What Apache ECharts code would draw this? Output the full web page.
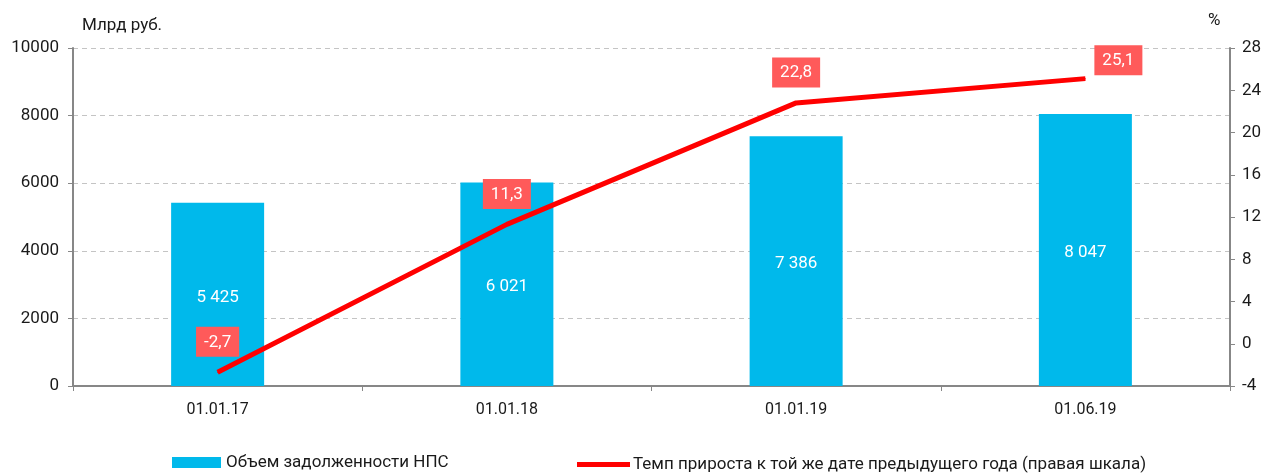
<!DOCTYPE html>
<html>
<head>
<meta charset="utf-8">
<script src="https://cdn.jsdelivr.net/npm/echarts@6/dist/echarts.min.js"></script>
<style>
  html, body { margin: 0; padding: 0; background: #fff; }
  #chart { width: 1268px; height: 473px; }
</style>
</head>
<body>
<div id="chart"></div>
<script>
// данные
const categories = ['01.01.17', '01.01.18', '01.01.19', '01.06.19']
const debtValues = [5425, 6021, 7386, 8047]
const growthValues = [-2.7, 11.3, 22.8, 25.1]
const leftTicks = { min: 0, max: 10000, interval: 2000 }
const rightTicks = { min: -4, max: 28, interval: 4 }

const FONT = 'Roboto, "Noto Sans", sans-serif'
const AXIS_COLOR = '#878787'
const BAR_COLOR = '#00B9EB'
const LINE_COLOR = '#FF0000'

const fmtThousands = (v) => String(v).replace(/\B(?=(\d{3})+(?!\d))/g, ' ')
const fmtComma = (v) => String(v).replace('.', ',')

const chart = echarts.init(document.getElementById('chart'))

const option = {
  animation: false,
  textStyle: { fontFamily: FONT },
  grid: { left: 73, right: 38, top: 48, bottom: 87 },
  graphic: [
    { type: 'text', left: 82, top: 17, style: { text: 'Млрд руб.', font: '17px ' + FONT, fill: '#1a1a1a' } },
    { type: 'text', left: 1208, top: 12, style: { text: '%', font: '17px ' + FONT, fill: '#1a1a1a' } }
  ],
  legend: [
    {
      data: [{ name: 'Объем задолженности НПС', icon: 'rect' }],
      left: 167, top: 449,
      itemWidth: 49, itemHeight: 11,
      textStyle: { fontSize: 17, color: '#1a1a1a', fontFamily: FONT },
      selectedMode: false
    },
    {
      data: [{ name: 'Темп прироста к той же дате предыдущего года (правая шкала)', icon: 'rect' }],
      left: 572, top: 451,
      itemWidth: 53, itemHeight: 5, itemGap: 3,
      textStyle: { fontSize: 17, color: '#1a1a1a', fontFamily: FONT, padding: [0, 0, 0, -2] },
      selectedMode: false
    }
  ],
  xAxis: {
    type: 'category',
    data: categories,
    axisLine: { lineStyle: { color: AXIS_COLOR, width: 2 } },
    axisTick: { show: true, length: 5, lineStyle: { color: AXIS_COLOR, width: 1 } },
    axisLabel: { color: '#1a1a1a', fontSize: 16, margin: 16 }
  },
  yAxis: [
    {
      type: 'value',
      min: leftTicks.min, max: leftTicks.max, interval: leftTicks.interval,
      axisLine: { show: true, lineStyle: { color: AXIS_COLOR, width: 2 } },
      axisTick: { show: true, length: 5, lineStyle: { color: AXIS_COLOR } },
      axisLabel: { color: '#1a1a1a', fontSize: 17, margin: 14, formatter: (v) => String(v) },
      splitLine: { show: true, lineStyle: { color: '#C4C4C4', type: [5, 4], width: 1 } }
    },
    {
      type: 'value',
      min: rightTicks.min, max: rightTicks.max, interval: rightTicks.interval,
      axisLine: { show: true, lineStyle: { color: AXIS_COLOR, width: 2 } },
      axisTick: { show: true, length: 5, lineStyle: { color: AXIS_COLOR } },
      axisLabel: { color: '#1a1a1a', fontSize: 17, margin: 12, formatter: (v) => String(v) },
      splitLine: { show: false }
    }
  ],
  series: [
    {
      name: 'Объем задолженности НПС',
      type: 'bar',
      data: debtValues,
      barWidth: 93,
      itemStyle: { color: BAR_COLOR },
      label: {
        show: true,
        position: 'inside',
        offset: [0, 3],
        color: '#fff',
        fontSize: 17,
        formatter: (p) => fmtThousands(p.value)
      }
    },
    {
      name: 'Темп прироста к той же дате предыдущего года (правая шкала)',
      type: 'line',
      yAxisIndex: 1,
      data: growthValues.map((v, i) => i === growthValues.length - 1
        ? { value: v, label: { offset: [33, 12] } }
        : { value: v }),
      showSymbol: true,
      symbol: 'circle',
      symbolSize: 1,
      lineStyle: { color: LINE_COLOR, width: 5 },
      itemStyle: { color: LINE_COLOR },
      label: {
        show: true,
        position: 'top',
        distance: 15,
        color: '#fff',
        fontSize: 17,
        backgroundColor: '#FF5A5A',
        padding: [7, 8, 6, 8],
        formatter: (p) => fmtComma(p.value)
      }
    }
  ]
}

chart.setOption(option)
</script>
</body>
</html>
